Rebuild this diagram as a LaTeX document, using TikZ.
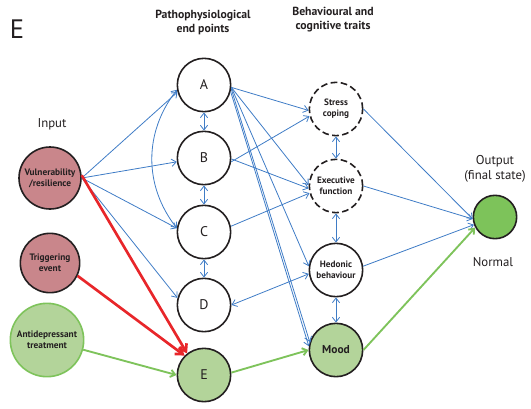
\documentclass[tikz,border=0pt]{standalone}
\usepackage{fontspec}
\setmainfont{PT Sans}
\usetikzlibrary{arrows.meta}

\definecolor{linkblue}{HTML}{3F7CC6}
\definecolor{hitred}{HTML}{E8262A}
\definecolor{drugline}{HTML}{7EC35B}
\definecolor{palegreen}{HTML}{B3D49A}
\definecolor{rosefill}{HTML}{C9868B}
\definecolor{outgreen}{HTML}{7DC35A}
\definecolor{inkgray}{HTML}{231F20}

\begin{document}
\begin{tikzpicture}[x=0.75pt, y=-0.75pt,
    >={Straight Barb[length=3.5pt,width=5.5pt]},
    every node/.style={text=inkgray},
    endpoint/.style={circle, draw=inkgray, line width=1.2pt, minimum size=40pt,
        inner sep=0pt, font=\fontsize{10.5}{12}\selectfont},
    trait/.style={circle, draw=inkgray, line width=1.2pt, minimum size=40pt,
        inner sep=0pt, align=center, font=\bfseries\fontsize{6.9}{8.2}\selectfont},
    dashtrait/.style={trait, dash pattern=on 5pt off 2.6pt},
    inputnode/.style={circle, draw=inkgray, line width=1.2pt, fill=rosefill,
        inner sep=0pt, align=center, font=\bfseries\fontsize{7}{8.3}\selectfont},
    heading/.style={align=center, font=\bfseries\fontsize{8.8}{10.5}\selectfont},
    caption/.style={align=center, font=\fontsize{9.6}{11.5}\selectfont},
    bluelink/.style={->, draw=linkblue, line width=0.6pt},
    bothlink/.style={<->, draw=linkblue, line width=0.6pt},
    redlink/.style={-{Straight Barb[length=5pt,width=7pt]}, draw=hitred, line width=2pt},
    greenlink/.style={->, draw=drugline, line width=1.4pt}
]
\useasboundingbox (0,0) rectangle (531,408);

    % Panel letter and column headings
    \node[font=\fontsize{20}{22}\selectfont] (panel) at (17,29) {E};
    \node[heading] (pathohead) at (203,22) {Pathophysiological\\end points};
    \node[heading] (traithead) at (333,20) {Behavioural and\\cognitive traits};
    \node[caption] (inputlabel) at (52,124) {Input};
    \node[caption] (outputlabel) at (495,169) {Output\\(final state)};
    \node[caption] (normallabel) at (493,262) {Normal};

    % Input nodes
    \node[inputnode, minimum size=46.5pt] (vul) at (50,178) {Vulnerability\\/resilience};
    \node[inputnode, minimum size=44.5pt] (trig) at (50,263) {Triggering\\event};
    \node[inputnode, draw=drugline, fill=palegreen, minimum size=55pt] (drug) at (47,340) {Antidepressant\\treatment};

    % Pathophysiological end points
    \node[endpoint] (A) at (204,85) {A};
    \node[endpoint] (B) at (204,158) {B};
    \node[endpoint] (C) at (204,232) {C};
    \node[endpoint] (D) at (204,305) {D};
    \node[endpoint, fill=palegreen] (E) at (204,375) {E};

    % Behavioural and cognitive traits
    \node[dashtrait] (stress) at (336,109) {Stress\\coping};
    \node[dashtrait] (exec) at (336,186) {Executive\\function};
    \node[trait] (hedonic) at (336,270) {Hedonic\\behaviour};
    \node[trait, fill=palegreen, font=\bfseries\fontsize{8.6}{10}\selectfont] (mood) at (336,350) {Mood};

    % Output
    \node[circle, draw=inkgray, line width=1.2pt, fill=outgreen, minimum size=32.5pt] (out) at (495,217) {};

    % Input to end points
    \draw[bluelink] (vul.east) -- (A.195);
    \draw[bluelink] (vul.east) -- (B.188);
    \draw[bluelink] (vul.east) -- (C.172);
    \draw[bluelink] (vul.east) -- (D.165);
    \draw[redlink] (vul.5) -- (E.128);
    \draw[redlink] (trig.-25) -- (E.135);
    \draw[greenlink] (drug.-15) -- (E.west);

    % Links within the end points column
    \draw[bothlink] (A) -- (B);
    \draw[bothlink] (B) -- (C);
    \draw[bothlink] (C) -- (D);
    \draw[bothlink] (A.190) to[bend right=38] (C.172);

    % End points to traits
    \draw[bluelink] (A.-5) -- (stress.183);
    \draw[bluelink] (A.-5) -- (exec.178);
    \draw[bluelink] (A.-5) -- (hedonic.172);
    \draw[bluelink] (A.-8) -- (mood.163);
    \draw[bluelink] (A.-14) -- (mood.172);
    \draw[bluelink] (B.-8) -- (stress.195);
    \draw[bluelink] (B.-2) -- (exec.185);
    \draw[bluelink] (C.12) -- (exec.195);
    \draw[bothlink] (D.east) -- (hedonic.188);
    \draw[greenlink] (E.5) -- (mood.west);

    % Links within the traits column
    \draw[bothlink] (stress) -- (exec);
    \draw[bothlink] (exec) -- (hedonic);
    \draw[bothlink] (hedonic) -- (mood);

    % Traits to output
    \draw[bluelink] (stress.east) -- (out.185);
    \draw[bluelink] (exec.east) -- (out.185);
    \draw[bluelink] (hedonic.8) -- (out.200);
    \draw[greenlink] (mood.east) -- (out.208);

\end{tikzpicture}
\end{document}
